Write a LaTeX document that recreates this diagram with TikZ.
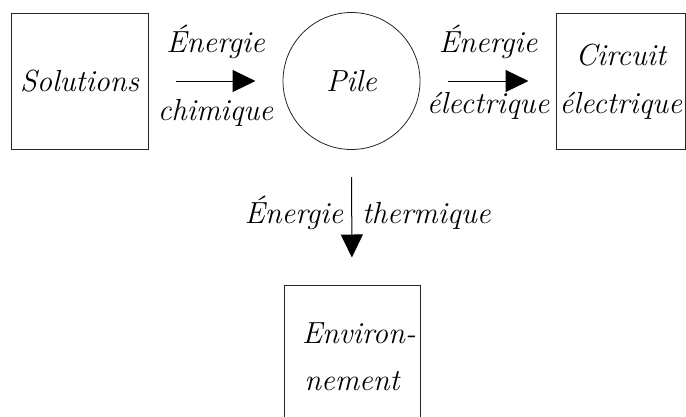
\documentclass[tikz,border=0pt]{standalone}
\usetikzlibrary{arrows.meta}
\begin{document}
\begin{tikzpicture}[x=1pt,y=-1pt,
  every node/.style={inner sep=0pt,outer sep=0pt},
  boxst/.style={draw=black!85,line width=0.8pt,rectangle},
  txt/.style={font=\fontsize{30.5}{36}\selectfont\itshape,anchor=base},
  flow/.style={line width=1pt,-{Triangle[length=23pt,width=22pt]},shorten <=27.5pt,shorten >=27.5pt}]
\useasboundingbox (0,0) rectangle (686,416);
\clip (0,0) rectangle (686,416);
% nodes
\node[boxst,minimum width=137pt,minimum height=136pt] (sol) at (79.5,81) {};
\node[txt] (soltxt) at (79.5,91) {Solutions};
\node[draw=black!85,line width=0.8pt,circle,minimum size=137pt] (pile) at (351.5,81) {};
\node[txt] (piletxt) at (351.5,91) {Pile};
\node[boxst,minimum width=129.5pt,minimum height=136pt] (circ) at (620.75,81) {};
\node[txt] (circ1) at (620.75,65) {Circuit};
\node[txt] (circ2) at (620.75,113) {électrique};
\node[boxst,minimum width=136pt,minimum height=150pt] (env) at (352,360) {};
\node[txt,anchor=base west] (env1) at (302,343) {Environ-};
\node[txt] (env2) at (352,390) {nement};
% connectors
\draw[flow] (sol.east) -- (pile.west);
\draw[flow] (pile.east) -- (circ.west);
\draw[flow] (pile.south) -- (env.north);
% labels
\node[txt] (l1a) at (215.5,52) {Énergie};
\node[txt] (l1b) at (215.5,120) {chimique};
\node[txt] (l2a) at (488,52) {Énergie};
\node[txt] (l2b) at (488,113) {électrique};
\node[txt,anchor=base east] (l3a) at (343,223) {Énergie};
\node[txt,anchor=base west] (l3b) at (362,223) {thermique};
\end{tikzpicture}
\end{document}
